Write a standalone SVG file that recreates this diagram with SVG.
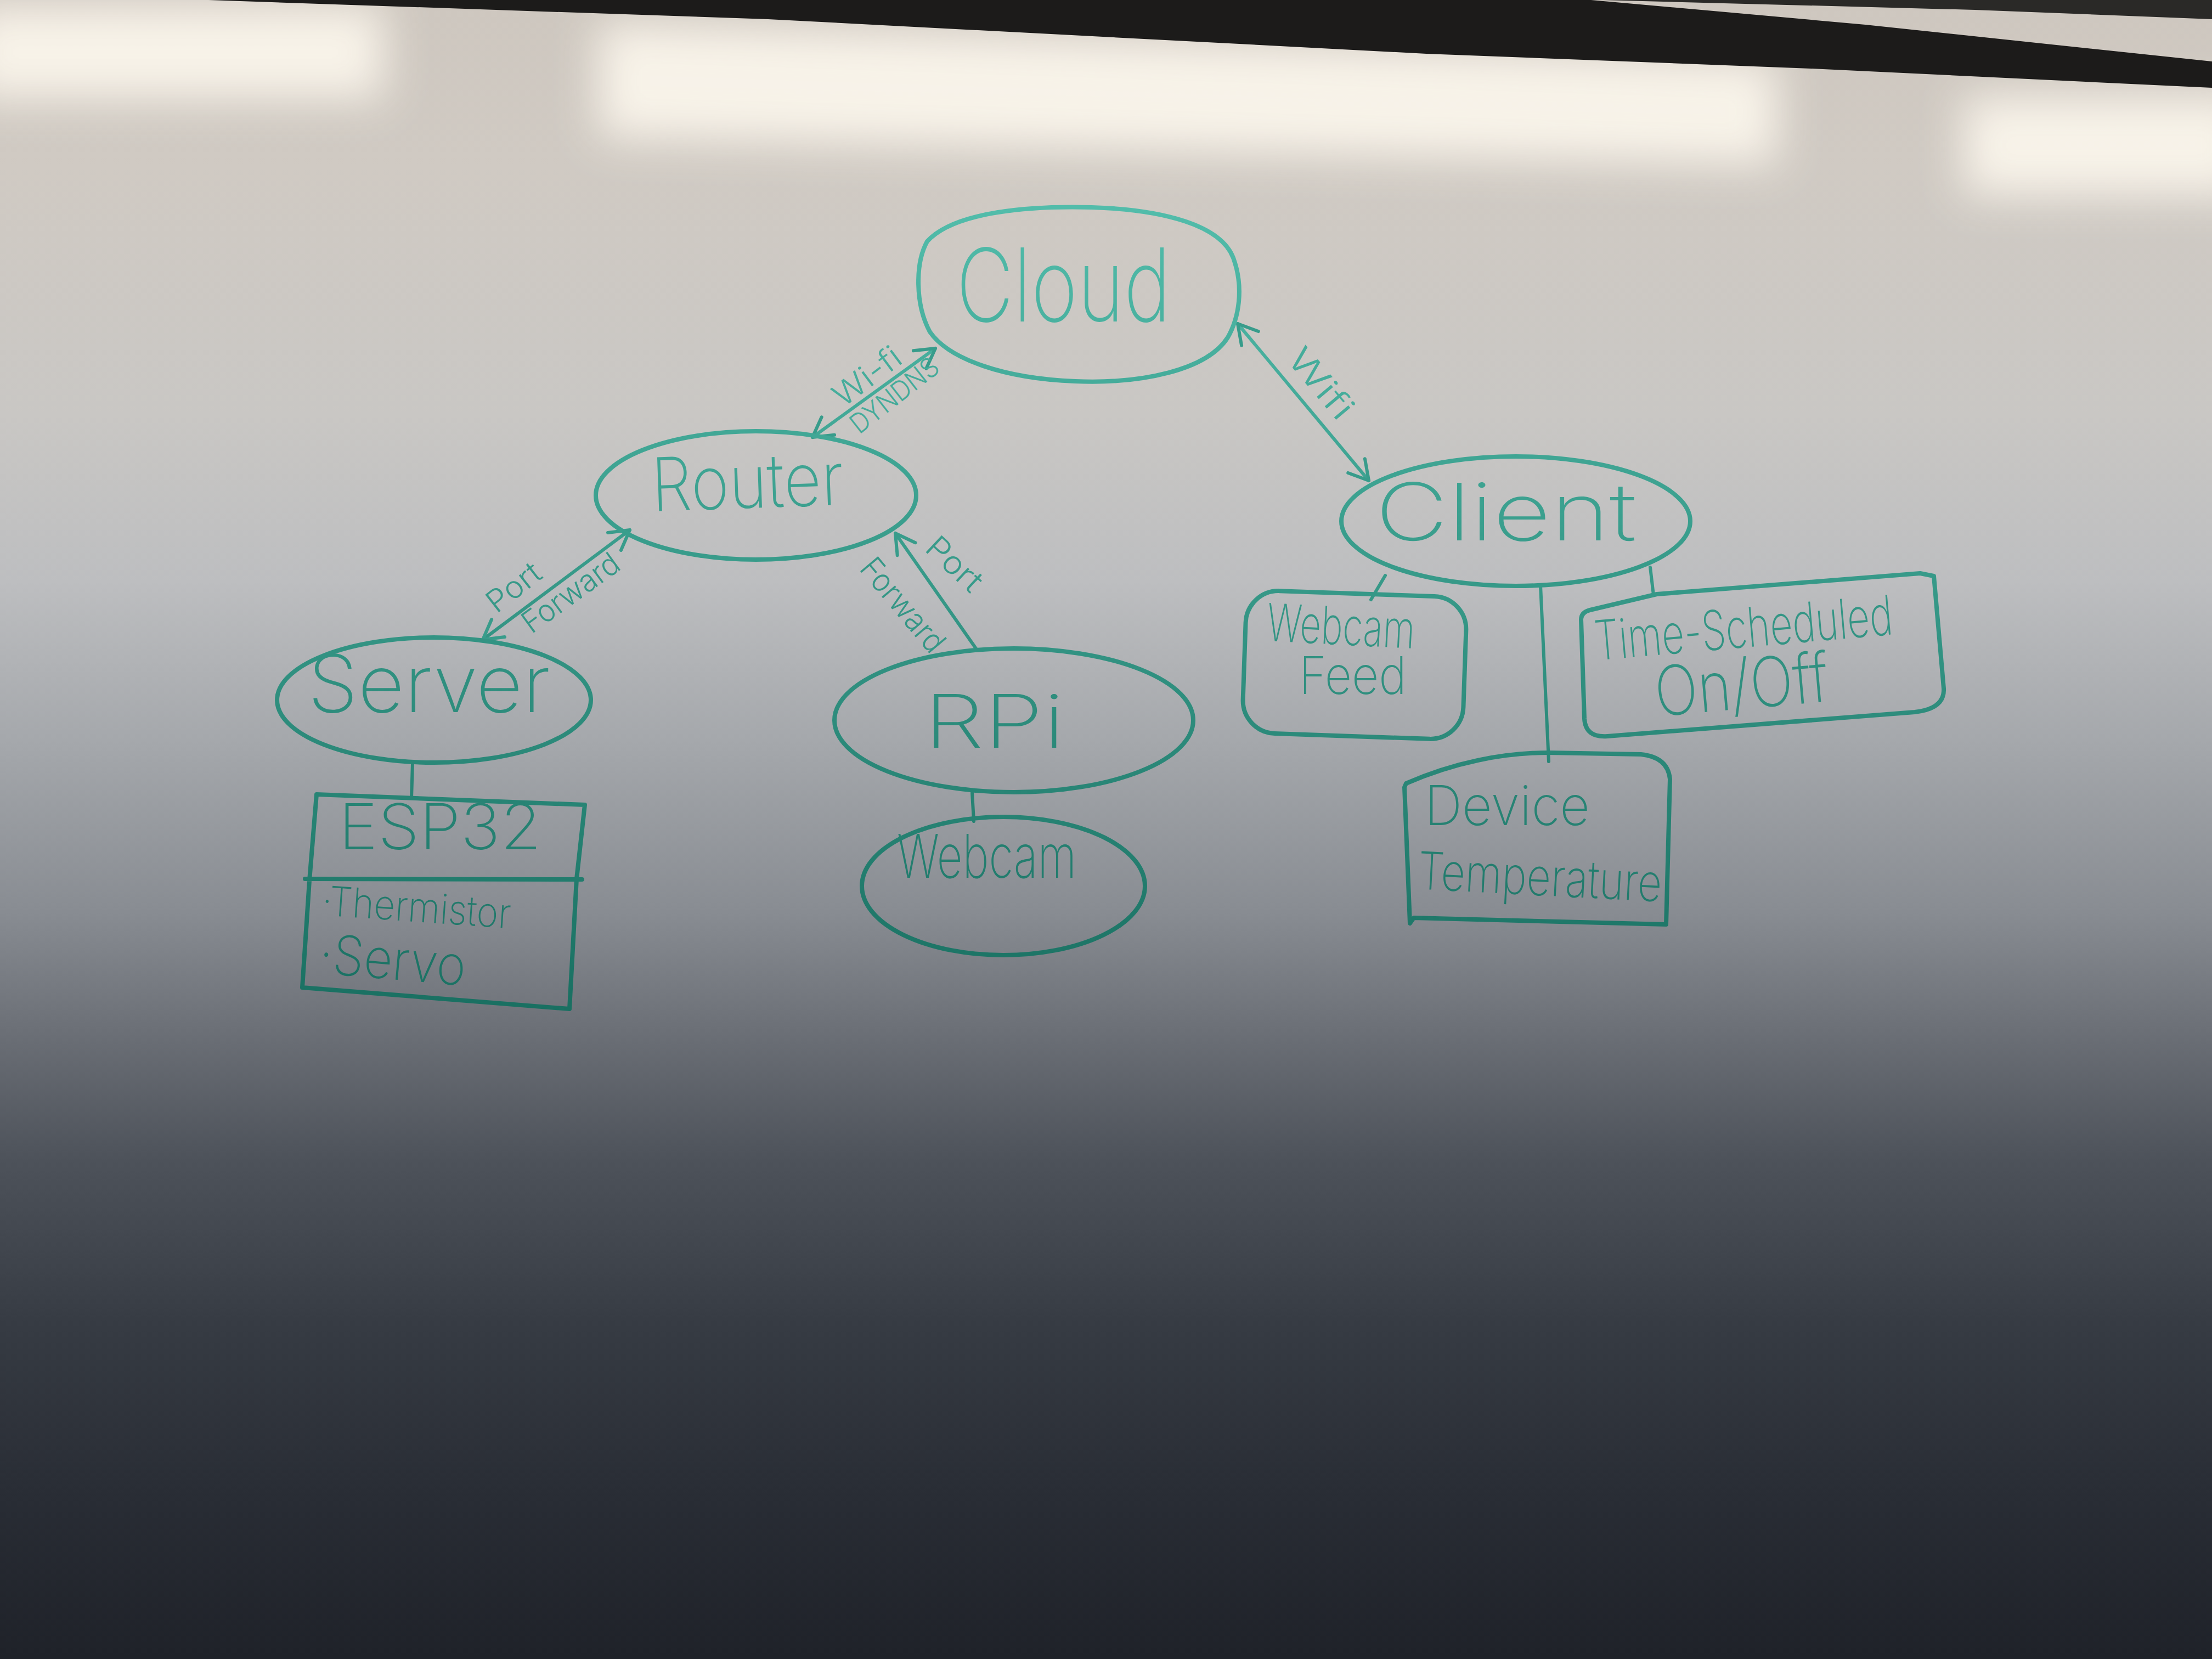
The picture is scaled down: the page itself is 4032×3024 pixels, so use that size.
<svg xmlns="http://www.w3.org/2000/svg" width="4032" height="3024" viewBox="0 0 4032 3024">
<defs>
<linearGradient id="board" x1="0" y1="0" x2="0" y2="3024" gradientUnits="userSpaceOnUse">
<stop offset="0" stop-color="#cec7bf"/>
<stop offset="0.1" stop-color="#d0cac3"/>
<stop offset="0.25" stop-color="#c9c7c4"/>
<stop offset="0.35" stop-color="#bdbec0"/>
<stop offset="0.45" stop-color="#a4a7ab"/>
<stop offset="0.55" stop-color="#888c92"/>
<stop offset="0.62" stop-color="#6c7077"/>
<stop offset="0.70" stop-color="#4d525a"/>
<stop offset="0.80" stop-color="#363b43"/>
<stop offset="0.90" stop-color="#292d35"/>
<stop offset="1" stop-color="#1f2229"/>
</linearGradient>
<linearGradient id="ink" x1="0" y1="380" x2="0" y2="1850" gradientUnits="userSpaceOnUse">
<stop offset="0" stop-color="#52bcaa"/>
<stop offset="0.4" stop-color="#3a9e8d"/>
<stop offset="1" stop-color="#196f61"/>
</linearGradient>
<filter id="blur" x="-50%" y="-50%" width="200%" height="200%"><feGaussianBlur stdDeviation="40"/></filter>
<marker id="arrow" viewBox="0 0 60 60" markerWidth="60" markerHeight="60" refX="55" refY="30" orient="auto-start-reverse" markerUnits="userSpaceOnUse">
<path d="M20,10 L55,30 L20,50" fill="none" stroke="#389c8b" stroke-width="6" stroke-linecap="round" stroke-linejoin="round"/>
</marker>
<style>
.ink{fill:none;stroke:url(#ink);stroke-width:8;stroke-linecap:round;stroke-linejoin:round}
.conn{fill:none;stroke:url(#ink);stroke-width:6;stroke-linecap:round}
.t{fill:url(#ink);font-family:Inter,"Open Sans","DejaVu Sans",sans-serif;font-weight:200}
.lbl{fill:url(#ink);font-family:Inter,"Open Sans","DejaVu Sans",sans-serif;font-weight:300;text-anchor:middle}
</style>
</defs>

<rect x="0" y="0" width="4032" height="3024" fill="url(#board)"/>
<g id="reflections" filter="url(#blur)" fill="#fffaf0" opacity="0.85">
<rect x="-60" y="10" width="760" height="170"/>
<polygon points="1090,40 3240,110 3240,300 1090,250"/>
<rect x="3580" y="175" width="520" height="180"/>
</g>
<g id="frame">
<polygon points="0,0 4032,0 4032,30 2950,0" fill="#c4beb6"/>
<polygon points="380,0 2900,0 3400,45 4032,112 4032,160 3300,125 2600,98 1400,35" fill="#1c1b1a"/>
<polygon points="2920,0 4032,0 4032,35 3600,18" fill="#2a2927"/>
</g>

<g id="connectors">
<line class="conn" x1="1705" y1="635" x2="1481" y2="797" marker-start="url(#arrow)" marker-end="url(#arrow)"/>
<line class="conn" x1="2256" y1="590" x2="2495" y2="876" marker-start="url(#arrow)" marker-end="url(#arrow)"/>
<line class="conn" x1="1148" y1="966" x2="880" y2="1166" marker-start="url(#arrow)" marker-end="url(#arrow)"/>
<line class="conn" x1="1632" y1="972" x2="1781" y2="1185" marker-start="url(#arrow)"/>
<line class="conn" x1="752" y1="1391" x2="750" y2="1455"/>
<line class="conn" x1="1772" y1="1445" x2="1775" y2="1497"/>
<line class="conn" x1="2525" y1="1049" x2="2499" y2="1093"/>
<line class="conn" x1="2808" y1="1067" x2="2823" y2="1388"/>
<line class="conn" x1="3008" y1="1034" x2="3014" y2="1085"/>
<g id="connector-labels">
<text class="lbl" font-size="58" x="1583" y="705" textLength="140" lengthAdjust="spacingAndGlyphs" transform="rotate(-37 1583 689)">Wi-fi</text>
<text class="lbl" font-size="50" x="1630" y="738" textLength="190" lengthAdjust="spacingAndGlyphs" transform="rotate(-38 1630 720)">DYNDNS</text>
<text class="lbl" font-size="62" x="2407" y="720" textLength="150" lengthAdjust="spacingAndGlyphs" transform="rotate(50 2407 700)">Wifi</text>
<text class="lbl" font-size="56" x="936" y="1090" textLength="110" lengthAdjust="spacingAndGlyphs" transform="rotate(-38 936 1070)">Port</text>
<text class="lbl" font-size="56" x="1040" y="1100" textLength="205" lengthAdjust="spacingAndGlyphs" transform="rotate(-36 1040 1080)">Forward</text>
<text class="lbl" font-size="58" x="1740" y="1048" textLength="118" lengthAdjust="spacingAndGlyphs" transform="rotate(43 1740 1028)">Port</text>
<text class="lbl" font-size="58" x="1646" y="1123" textLength="205" lengthAdjust="spacingAndGlyphs" transform="rotate(50 1646 1103)">Forward</text>
</g>
</g>

<g id="node-cloud">
<path class="ink" d="M1690,440 C1740,385 1880,375 1990,378 C2120,382 2225,410 2248,470 C2268,525 2258,580 2238,615 C2200,675 2080,700 1960,695 C1830,690 1730,655 1695,605 C1668,555 1668,480 1690,440 Z"/>
<text class="t" font-size="185" x="1743" y="586" textLength="391" lengthAdjust="spacingAndGlyphs">Cloud</text>
</g>
<g id="node-router">
<ellipse class="ink" cx="1378" cy="903" rx="292" ry="117"/>
<text class="t" font-size="135" x="1188" y="926" textLength="350" lengthAdjust="spacingAndGlyphs" transform="rotate(-2 1363 900)">Router</text>
</g>
<g id="node-server">
<ellipse class="ink" cx="791" cy="1276" rx="286" ry="114"/>
<text class="t" font-size="145" x="561" y="1298" textLength="442" lengthAdjust="spacingAndGlyphs">Server</text>
</g>
<g id="node-esp32">
<path class="ink" d="M577,1448 L1066,1467 L1051,1602 L1038,1839 L551,1800 L564,1605 Z M556,1602 L1061,1603"/>
<text class="t" font-size="115" x="617" y="1548" textLength="370" lengthAdjust="spacingAndGlyphs">ESP32</text>
<text class="t" font-size="75" x="586" y="1680" textLength="345" lengthAdjust="spacingAndGlyphs" transform="rotate(4 758 1665)">·Thermistor</text>
<text class="t" font-size="100" x="581" y="1785" textLength="268" lengthAdjust="spacingAndGlyphs" transform="rotate(5 715 1760)">·Servo</text>
</g>
<g id="node-rpi">
<ellipse class="ink" cx="1848" cy="1313" rx="327" ry="131"/>
<text class="t" font-size="135" x="1684" y="1363" textLength="257" lengthAdjust="spacingAndGlyphs">RPi</text>
</g>
<g id="node-webcam">
<ellipse class="ink" cx="1829" cy="1615" rx="258" ry="126"/>
<text class="t" font-size="110" x="1635" y="1600" textLength="327" lengthAdjust="spacingAndGlyphs">Webcam</text>
</g>
<g id="node-client">
<ellipse class="ink" cx="2763" cy="950" rx="318" ry="118"/>
<text class="t" font-size="145" x="2507" y="985" textLength="476" lengthAdjust="spacingAndGlyphs">Client</text>
</g>
<g id="node-webcam-feed">
<rect class="ink" x="2268" y="1082" width="402" height="260" rx="60" transform="rotate(2 2469 1212)"/>
<text class="t" font-size="95" x="2309" y="1175" textLength="270" lengthAdjust="spacingAndGlyphs" transform="rotate(3 2444 1150)">Webcam</text>
<text class="t" font-size="95" x="2368" y="1265" textLength="196" lengthAdjust="spacingAndGlyphs">Feed</text>
</g>
<g id="node-time-scheduled">
<path class="ink" d="M2898,1112 L3020,1083 L3500,1045 L3525,1050 L3543,1255 Q3545,1292 3490,1298 L2930,1342 Q2890,1345 2888,1310 L2882,1130 Q2882,1116 2898,1112 Z"/>
<text class="t" font-size="100" x="2906" y="1180" textLength="545" lengthAdjust="spacingAndGlyphs" transform="rotate(-5 3178 1150)">Time-Scheduled</text>
<text class="t" font-size="125" x="3016" y="1292" textLength="317" lengthAdjust="spacingAndGlyphs" transform="rotate(-5 3175 1250)">On/Off</text>
</g>
<g id="node-device-temp">
<path class="ink" d="M2563,1428 C2650,1390 2740,1372 2823,1372 L2991,1375 Q3040,1380 3044,1420 L3037,1685 L2577,1673 L2570,1683 L2560,1435 Z"/>
<text class="t" font-size="100" x="2597" y="1504" textLength="301" lengthAdjust="spacingAndGlyphs">Device</text>
<text class="t" font-size="95" x="2584" y="1632" textLength="445" lengthAdjust="spacingAndGlyphs" transform="rotate(3 2806 1610)">Temperature</text>
</g>
</svg>
